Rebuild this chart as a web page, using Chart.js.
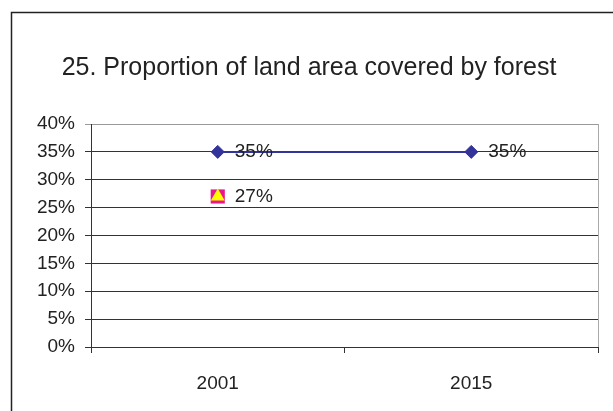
<!DOCTYPE html>
<html>
<head>
<meta charset="utf-8">
<script src="https://cdn.jsdelivr.net/npm/chart.js@4/dist/chart.umd.min.js"></script>
<style>
  body { margin: 0; background: #fff; }
  canvas { display: block; }
</style>
</head>
<body>
<canvas id="myCanvas" width="613" height="411"></canvas>
<script>
const years = ['2001', '2015'];
const forestShare = [35, 35];
const forestTriangle = [27, null];
const forestSquare = [27, null];
const chartTitle = '25. Proportion of land area covered by forest';

const canvas = document.getElementById('myCanvas');
const ctx = canvas.getContext('2d');
const fontFamily = '"Liberation Sans", Arial, sans-serif';

// frame round the whole chart, the title and the plot area's right edge
const frameAndTitle = {
    id: 'frameAndTitle',
    beforeDraw(chart) {
        const c = chart.ctx;
        c.save();
        c.fillStyle = '#fff';
        c.fillRect(0, 0, chart.width, chart.height);
        c.strokeStyle = '#222';
        c.lineWidth = 1.5;
        c.strokeRect(11.5, 12.5, 800, 600);
        c.font = '25px ' + fontFamily;
        c.fillStyle = '#222';
        c.textAlign = 'center';
        c.fillText(chartTitle, 309, 75);
        c.restore();
    },
    beforeDatasetsDraw(chart) {
        const a = chart.chartArea;
        const c = chart.ctx;
        c.save();
        c.strokeStyle = '#aaa';
        c.lineWidth = 1;
        c.beginPath();
        c.moveTo(Math.round(a.right) + 0.5, a.top);
        c.lineTo(Math.round(a.right) + 0.5, a.bottom);
        c.stroke();
        c.restore();
    }
};

// value labels to the right of the points
const pointLabels = {
    id: 'pointLabels',
    afterDatasetsDraw(chart) {
        const c = chart.ctx;
        c.save();
        c.font = '19px ' + fontFamily;
        c.fillStyle = '#222';
        c.textBaseline = 'middle';
        chart.data.datasets.forEach(function(ds, i) {
            if (!ds.showValues) return;
            chart.getDatasetMeta(i).data.forEach(function(pt, j) {
                const v = ds.data[j];
                if (v == null) return;
                c.fillText(v + '%', pt.x + 17, pt.y);
            });
        });
        c.restore();
    }
};

let chart = new Chart(ctx, {
    type: 'line',
    data: {
        labels: years,
        datasets: [{
            data: forestShare,
            borderColor: '#333399',
            backgroundColor: '#333399',
            borderWidth: 2,
            pointStyle: 'rectRot',
            pointRadius: 6.5,
            pointBorderWidth: 1,
            pointBackgroundColor: '#333399',
            pointBorderColor: '#333399',
            showValues: true
        }, {
            data: forestTriangle,
            showLine: false,
            pointStyle: 'triangle',
            pointRadius: 8,
            pointBorderWidth: 0,
            pointBackgroundColor: '#ffff00',
            pointBorderColor: '#ffff00'
        }, {
            data: forestSquare,
            showLine: false,
            pointStyle: 'rect',
            pointRadius: 10,
            pointBorderWidth: 0,
            pointBackgroundColor: '#e8178f',
            pointBorderColor: '#e8178f',
            showValues: true
        }]
    },
    options: {
        responsive: false,
        animation: false,
        layout: { padding: { left: 0, right: 15, top: 124, bottom: 0 } },
        plugins: {
            legend: { display: false },
            title: { display: false },
            tooltip: { enabled: false }
        },
        scales: {
            x: {
                offset: true,
                grid: { offset: true, drawOnChartArea: false, drawTicks: true, tickLength: 6, color: '#333' },
                border: { color: '#333' },
                ticks: { padding: 19, color: '#222', font: { family: fontFamily, size: 19 } },
                afterFit: function(s) { s.height = 64; }
            },
            y: {
                min: 0,
                max: 40,
                ticks: {
                    stepSize: 5,
                    padding: 10,
                    color: '#222',
                    font: { family: fontFamily, size: 19 },
                    callback: function(v) { return v + '%'; }
                },
                grid: {
                    tickLength: 6,
                    color: function(c) { return c.tick && c.tick.value === 40 ? '#999' : '#333'; }
                },
                border: { color: '#333' },
                afterFit: function(s) { s.width = 91; }
            }
        }
    },
    plugins: [frameAndTitle, pointLabels]
});
</script>
</body>
</html>
